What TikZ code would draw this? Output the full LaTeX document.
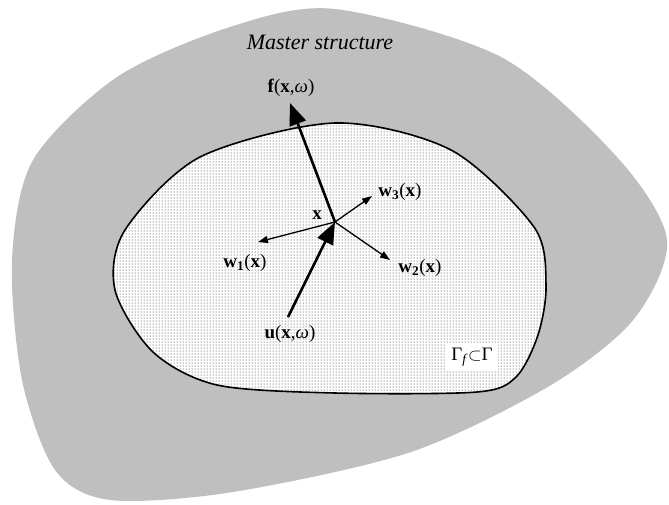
\documentclass[tikz,border=0pt]{standalone}
\usepackage{fontspec}
\setmainfont{Liberation Serif}
\usetikzlibrary{arrows.meta,patterns}

\tikzstyle{lab} = [font=\fontsize{19}{20}\selectfont, inner sep=1pt]
\tikzstyle{bigvec} = [line width=2.6pt, -{Triangle[length=22pt,width=17pt]}]
\tikzstyle{basis} = [line width=1.3pt, -{Triangle[length=10pt,width=7pt]}]

\begin{document}
\begin{tikzpicture}[x=1pt, y=-1pt]
\useasboundingbox (0,0) rectangle (669,504);
\clip (0,0) rectangle (669,504);
% master structure
\fill[black!25] plot[smooth cycle] coordinates {(335,9) (501,57) (617,157) (667,240) (634,319) (551,385) (411,452) (233,492) (110,500) (55,470) (22,380) (12,260) (33,160) (117,77) (230,27)};
% sub-structure
\draw[preaction={fill=white}, pattern=dots, pattern color=black!90, line width=1.6pt]
    plot[smooth cycle] coordinates {(335,123) (451,150) (534,227) (546,285) (538,335) (516,377) (477,392) (335,393) (217,385) (153,352) (115,290) (125,230) (200,157)};
\node[font=\fontsize{22}{24}\selectfont\itshape] (master) at (320,42) {Master structure};
\node[lab, fill=white, inner sep=5pt] (gam) at (472,357) {Γ\textsubscript{\textit{f}}$\subset$Γ};

\coordinate (X) at (335,222);
\coordinate (ftip) at (290,103);
\coordinate (ubase) at (288,317);
\coordinate (w1tip) at (258,242);
\coordinate (w2tip) at (390,260);
\coordinate (w3tip) at (372,196);

\draw[basis] (X) -- (w1tip);
\draw[basis] (X) -- (w2tip);
\draw[basis] (X) -- (w3tip);
\draw[bigvec] (X) -- (ftip);
\draw[bigvec] (ubase) -- (X);

\node[lab] (flab) at (291,88) {\textbf{f}(\textbf{x},\textit{ω})};
\node[lab] (ulab) at (290,334) {\textbf{u}(\textbf{x},\textit{ω})};
\node[lab] (xlab) at (317,215) {\textbf{x}};
\node[lab] (w1lab) at (245,263) {\textbf{w}\textsubscript{\textbf{1}}(\textbf{x})};
\node[lab] (w2lab) at (420,268) {\textbf{w}\textsubscript{\textbf{2}}(\textbf{x})};
\node[lab] (w3lab) at (400,192) {\textbf{w}\textsubscript{\textbf{3}}(\textbf{x})};
\end{tikzpicture}
\end{document}
